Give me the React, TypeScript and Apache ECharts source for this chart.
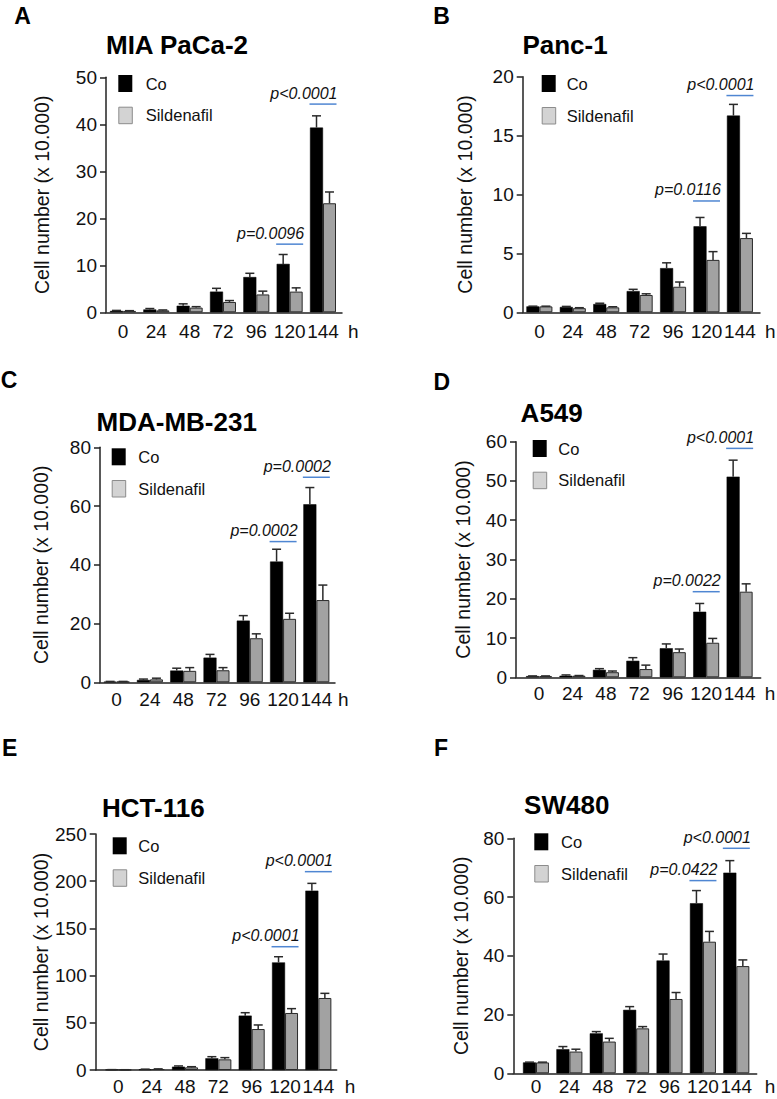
import React, { useEffect, useRef } from "react";
import * as echarts from "echarts";

// ---------- data ----------
const hours = ["0", "24", "48", "72", "96", "120", "144"];
const legendNames = ["Co", "Sildenafil"];
const pHours = ["120", "144"];

// A  MIA PaCa-2
const miaCo = [0.3, 0.6, 1.4, 4.4, 7.5, 10.3, 39.3];
const miaCoErr = [0.1, 0.2, 0.4, 0.7, 0.8, 2.0, 2.5];
const miaSil = [0.3, 0.4, 1.0, 2.2, 3.8, 4.4, 23.2];
const miaSilErr = [0.05, 0.1, 0.2, 0.3, 0.7, 0.8, 2.4];
const miaP = ["p=0.0096", "p<0.0001"];
const miaPLevel = [14.5, 44.3];

// B  Panc-1
const pancCo = [0.5, 0.45, 0.7, 1.8, 3.75, 7.3, 16.7];
const pancCoErr = [0.02, 0.05, 0.07, 0.15, 0.45, 0.75, 0.95];
const pancSil = [0.5, 0.35, 0.42, 1.47, 2.17, 4.45, 6.3];
const pancSilErr = [0.02, 0.04, 0.05, 0.1, 0.4, 0.7, 0.4];
const pancP = ["p=0.0116", "p<0.0001"];
const pancPLevel = [9.45, 18.4];

// C  MDA-MB-231
const mdaCo = [0.2, 0.8, 4.0, 8.4, 21.0, 41.1, 60.6];
const mdaCoErr = [0.1, 0.3, 0.8, 1.1, 1.7, 4.2, 5.7];
const mdaSil = [0.2, 1.0, 3.9, 4.1, 15.0, 21.6, 28.0];
const mdaSilErr = [0.1, 0.4, 1.1, 0.9, 1.5, 1.9, 5.1];
const mdaP = ["p=0.0002", "p=0.0002"];
const mdaPLevel = [47.9, 69.8];

// D  A549
const a549Co = [0.3, 0.4, 1.9, 4.2, 7.4, 16.7, 51.1];
const a549CoErr = [0.05, 0.2, 0.3, 0.8, 1.1, 2.1, 4.2];
const a549Sil = [0.3, 0.4, 1.3, 2.1, 6.4, 8.8, 21.8];
const a549SilErr = [0.05, 0.05, 0.3, 1.0, 0.8, 1.1, 2.0];
const a549P = ["p=0.0022", "p<0.0001"];
const a549PLevel = [21.8, 58.3];

// E  HCT-116
const hctCo = [0.3, 0.7, 3.5, 12.4, 57.6, 114, 190];
const hctCoErr = [0.1, 0.2, 0.8, 1.7, 3.1, 6, 7.7];
const hctSil = [0.2, 1.0, 2.8, 11.3, 43.4, 60.4, 76.3];
const hctSilErr = [0.1, 0.2, 0.7, 1.8, 4.3, 4.6, 4.9];
const hctP = ["p<0.0001", "p<0.0001"];
const hctPLevel = [130.6, 210.1];

// F  SW480
const swCo = [3.7, 8.2, 13.6, 21.6, 38.4, 57.9, 68.3];
const swCoErr = [0.1, 0.9, 0.6, 1.1, 2.2, 4.3, 4.1];
const swSil = [3.7, 7.4, 10.8, 15.3, 25.3, 44.8, 36.5];
const swSilErr = [0.1, 0.8, 1.1, 0.6, 2.2, 3.5, 2.1];
const swP = ["p=0.0422", "p<0.0001"];
const swPLevel = [65.6, 76.6];

const panelData = [
  { title: "MIA PaCa-2", co: miaCo, coErr: miaCoErr, sil: miaSil, silErr: miaSilErr, p: miaP, pLevel: miaPLevel, yMax: 50, yStep: 10 },
  { title: "Panc-1", co: pancCo, coErr: pancCoErr, sil: pancSil, silErr: pancSilErr, p: pancP, pLevel: pancPLevel, yMax: 20, yStep: 5 },
  { title: "MDA-MB-231", co: mdaCo, coErr: mdaCoErr, sil: mdaSil, silErr: mdaSilErr, p: mdaP, pLevel: mdaPLevel, yMax: 80, yStep: 20 },
  { title: "A549", co: a549Co, coErr: a549CoErr, sil: a549Sil, silErr: a549SilErr, p: a549P, pLevel: a549PLevel, yMax: 60, yStep: 10 },
  { title: "HCT-116", co: hctCo, coErr: hctCoErr, sil: hctSil, silErr: hctSilErr, p: hctP, pLevel: hctPLevel, yMax: 250, yStep: 50 },
  { title: "SW480", co: swCo, coErr: swCoErr, sil: swSil, silErr: swSilErr, p: swP, pLevel: swPLevel, yMax: 80, yStep: 20 },
];

// ---------- layout ----------
const layouts = [
  { letter: "A", lx: 22.5, ly: 15.5, tx: 177, ty: 45, left: 106, top: 77.3, width: 236, height: 235, xMin: -0.51, xMax: 6.57, lblMargin: 10, nameGap: 54, hGap: 6, sqX: 118.3, sqY1: 75, sqY2: 106.7, legX: 145.7 },
  { letter: "B", lx: 441.5, ly: 15.5, tx: 565, ty: 45, left: 522.7, top: 76.7, width: 237.3, height: 235.6, xMin: -0.5, xMax: 6.6, lblMargin: 10, nameGap: 48, hGap: 5, sqX: 541.7, sqY1: 75, sqY2: 107, legX: 566.7 },
  { letter: "C", lx: 9, ly: 380, tx: 176.7, ty: 421.7, left: 100, top: 447.3, width: 235, height: 235, xMin: -0.5, xMax: 6.56, lblMargin: 8, nameGap: 49, hGap: 3, sqX: 111.7, sqY1: 448.3, sqY2: 480, legX: 138.3 },
  { letter: "D", lx: 441.7, ly: 381.7, tx: 551.7, ty: 413.3, left: 516, top: 441.7, width: 244.7, height: 235.6, xMin: -0.69, xMax: 6.63, lblMargin: 6.5, nameGap: 43, hGap: 4, sqX: 532.7, sqY1: 440, sqY2: 471.7, legX: 558.3 },
  { letter: "E", lx: 9.7, ly: 748.3, tx: 153.3, ty: 808.3, left: 95.7, top: 834, width: 241, height: 236, xMin: -0.68, xMax: 6.55, lblMargin: 7, nameGap: 44.5, hGap: 8, sqX: 112.7, sqY1: 837.3, sqY2: 869.3, legX: 138.3 },
  { letter: "F", lx: 441, ly: 748.3, tx: 566.7, ty: 805, left: 513.3, top: 838.3, width: 243.4, height: 235, xMin: -0.68, xMax: 6.61, lblMargin: 4, nameGap: 42, hGap: 8, sqX: 534.3, sqY1: 833.3, sqY2: 865, legX: 561 },
];

const FONT = "'Liberation Sans', Arial, Helvetica, sans-serif";
const AXIS_COLOR = "#222";
const BAR_W = 13;
const TICK_FS = 19;

function buildOption() {
  const grid: any[] = [];
  const xAxis: any[] = [];
  const yAxis: any[] = [];
  const series: any[] = [];
  const graphic: any[] = [];

  panelData.forEach((pd, i) => {
    const L = layouts[i];
    grid.push({ left: L.left, top: L.top, width: L.width, height: L.height, containLabel: false });
    xAxis.push({
      type: "value",
      gridIndex: i,
      min: L.xMin,
      max: L.xMax,
      name: "h",
      nameLocation: "end",
      nameGap: L.hGap,
      nameTextStyle: { fontFamily: FONT, fontSize: TICK_FS, color: "#111", verticalAlign: "top", padding: [L.lblMargin, 0, 0, 0] },
      axisLine: { show: true, onZero: false, lineStyle: { color: AXIS_COLOR, width: 1.5 } },
      axisTick: { show: false },
      splitLine: { show: false },
      axisLabel: {
        show: true,
        customValues: hours.map((_, k) => k),
        formatter: (v: number) => hours[Math.round(v)] ?? "",
        margin: L.lblMargin,
        fontFamily: FONT,
        fontSize: TICK_FS,
        color: "#111",
      },
    });
    yAxis.push({
      type: "value",
      gridIndex: i,
      min: 0,
      max: pd.yMax,
      interval: pd.yStep,
      name: "Cell number (x 10.000)",
      nameLocation: "middle",
      nameGap: L.nameGap,
      nameTextStyle: { fontFamily: FONT, fontSize: 19.5, color: "#111" },
      axisLine: { show: true, onZero: false, lineStyle: { color: AXIS_COLOR, width: 1.5 } },
      axisTick: { show: true, length: 6, lineStyle: { color: AXIS_COLOR, width: 1.5 } },
      splitLine: { show: false },
      axisLabel: { margin: 9, fontFamily: FONT, fontSize: TICK_FS, color: "#111" },
    });

    series.push({
      type: "bar",
      name: legendNames[0],
      xAxisIndex: i,
      yAxisIndex: i,
      barWidth: BAR_W,
      barGap: "0%",
      itemStyle: { color: "#000", borderColor: "#000", borderWidth: 0.5 },
      data: pd.co.map((v, k) => [k, v]),
    });
    series.push({
      type: "bar",
      name: legendNames[1],
      xAxisIndex: i,
      yAxisIndex: i,
      barWidth: BAR_W,
      barGap: "0%",
      itemStyle: { color: "#a2a2a2", borderColor: "#2a2a2a", borderWidth: 1 },
      data: pd.sil.map((v, k) => [k, v]),
    });

    // error bars
    const errData: any[] = [];
    pd.co.forEach((v, k) => errData.push([k, v, pd.coErr[k], -1]));
    pd.sil.forEach((v, k) => errData.push([k, v, pd.silErr[k], 1]));
    series.push({
      type: "custom",
      xAxisIndex: i,
      yAxisIndex: i,
      data: errData,
      z: 3,
      renderItem: (params: any, api: any) => {
        const x = api.value(0);
        const v = api.value(1);
        const e = api.value(2);
        const side = api.value(3);
        const base = api.coord([x, v]);
        const top = api.coord([x, v + e]);
        const cx = base[0] + side * (BAR_W / 2);
        return {
          type: "group",
          children: [
            { type: "line", shape: { x1: cx, y1: base[1], x2: cx, y2: top[1] }, style: { stroke: "#2a2a2a", lineWidth: 1.5 } },
            { type: "line", shape: { x1: cx - 4.5, y1: top[1], x2: cx + 4.5, y2: top[1] }, style: { stroke: "#2a2a2a", lineWidth: 1.5 } },
          ],
        };
      },
    });

    // p-value annotations
    const pData = pHours.map((h, k) => [hours.indexOf(h), pd.pLevel[k], k]);
    const labels = pd.p;
    series.push({
      type: "custom",
      xAxisIndex: i,
      yAxisIndex: i,
      data: pData,
      z: 4,
      clip: false,
      renderItem: (params: any, api: any) => {
        const pt = api.coord([api.value(0), api.value(1)]);
        const x1 = pt[0] - 13.5;
        const x2 = pt[0] + 13.5;
        return {
          type: "group",
          children: [
            { type: "line", shape: { x1, y1: pt[1], x2, y2: pt[1] }, style: { stroke: "#4f86d2", lineWidth: 1.5 } },
            {
              type: "text",
              x: x2 + 1,
              y: pt[1] - 11,
              style: { text: labels[api.value(2)], align: "right", verticalAlign: "middle", font: `italic 16px ${FONT}`, fill: "#111" },
            },
          ],
        };
      },
    });

    // letter, title, legend
    graphic.push({ type: "text", x: L.lx, y: L.ly, style: { text: L.letter, align: "center", verticalAlign: "middle", font: `bold 23px ${FONT}`, fill: "#000" } });
    graphic.push({ type: "text", x: L.tx, y: L.ty, style: { text: pd.title, align: "center", verticalAlign: "middle", font: `bold 26px ${FONT}`, fill: "#000" } });
    graphic.push({ type: "rect", shape: { x: L.sqX, y: L.sqY1, width: 14, height: 17 }, style: { fill: "#000" } });
    graphic.push({ type: "rect", shape: { x: L.sqX + 0.5, y: L.sqY2 + 0.5, width: 13.5, height: 16.5 }, style: { fill: "#d3d3d3", stroke: "#8c8c8c", lineWidth: 1 } });
    graphic.push({ type: "text", x: L.legX, y: L.sqY1 + 8.5, style: { text: legendNames[0], align: "left", verticalAlign: "middle", font: `16.5px ${FONT}`, fill: "#111" } });
    graphic.push({ type: "text", x: L.legX, y: L.sqY2 + 8.5, style: { text: legendNames[1], align: "left", verticalAlign: "middle", font: `16.5px ${FONT}`, fill: "#111" } });
  });

  return {
    animation: false,
    backgroundColor: "#fff",
    textStyle: { fontFamily: FONT },
    grid,
    xAxis,
    yAxis,
    series,
    graphic,
  };
}

export default function App() {
  const ref = useRef<HTMLDivElement>(null);
  useEffect(() => {
    if (!ref.current) return;
    const chart = echarts.init(ref.current, undefined, { renderer: "svg" });
    chart.setOption(buildOption() as any);
    return () => chart.dispose();
  }, []);
  return <div ref={ref} style={{ position: "absolute", left: 0, top: 0, width: 777, height: 1099 }} />;
}
